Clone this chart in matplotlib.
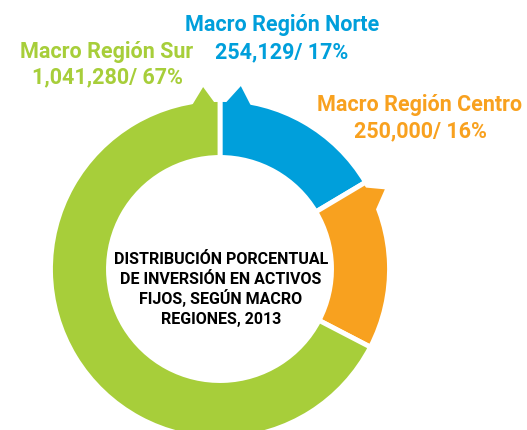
import numpy as np
import matplotlib
matplotlib.use("Agg")
import matplotlib.pyplot as plt
from matplotlib.patches import Polygon

# Investment in fixed assets by macro region, 2013
regions = ["Macro Región Norte", "Macro Región Centro", "Macro Región Sur"]
inversion = [254129, 250000, 1041280]
value_labels = ["254,129", "250,000", "1,041,280"]
percent_labels = ["17%", "16%", "67%"]
colors = ["#009FDB", "#F8A11F", "#A7CE3A"]
center_title = ["DISTRIBUCIÓN PORCENTUAL", "DE INVERSIÓN EN ACTIVOS",
                "FIJOS, SEGÚN MACRO", "REGIONES, 2013"]

W, H = 527, 430
CX, CY, R = 220, 269, 169.5  # ring centre and outer radius in pixels

fig = plt.figure(figsize=(W / 100, H / 100), dpi=100)
ax = fig.add_axes([0, 0, 1, 1])

wedges, _ = ax.pie(
    inversion, colors=colors, startangle=90, counterclock=False, radius=1.0,
    wedgeprops=dict(width=0.342, edgecolor="white", linewidth=3.5),
)
ax.set_aspect("auto")
ax.set_xlim(-CX / R, (W - CX) / R)
ax.set_ylim(-(H - CY) / R, CY / R)
ax.axis("off")


def pointer(boundary, near, apex, far, r_apex, color):
    """Small callout notch on the outer rim, angles relative to a wedge boundary."""
    angs = np.radians([boundary + near, boundary + apex, boundary + far])
    rads = [0.97, r_apex, 0.97]
    pts = [(r * np.cos(a), r * np.sin(a)) for r, a in zip(rads, angs)]
    ax.add_patch(Polygon(pts, closed=True, facecolor=color, edgecolor="none", zorder=3))


w_norte, w_centro, w_sur = wedges
pointer(w_norte.theta2, -1.4, -6.5, -11.2, 1.086, colors[0])
pointer(w_sur.theta1 + 360, 1.4, 5.3, 10.2, 1.078, colors[2])
pointer(w_centro.theta2, -1.0, -5.0, -10.8, 1.08, colors[1])

label_font = dict(family=["Roboto", "DejaVu Sans"], weight="bold", fontsize=15.5)
label_pos = [(282, 25, 52), (420, 105, 131), (107, 52, 77)]
for name, val, pct, col, (px, py1, py2) in zip(regions, value_labels, percent_labels, colors, label_pos):
    ax.text(px / W, 1 - py1 / H, name, color=col, ha="center", va="center",
            transform=ax.transAxes, **label_font)
    ax.text(px / W, 1 - py2 / H, f"{val}/ {pct}", color=col, ha="center", va="center",
            transform=ax.transAxes, **label_font)

# Title lines inside the ring, placed by baseline
for i, line in enumerate(center_title):
    ax.text(221 / W, 1 - (264 + 20 * i) / H, line, color="black", ha="center",
            va="baseline", transform=ax.transAxes,
            family=["Roboto", "DejaVu Sans"], weight="bold", fontsize=11.5)

fig.savefig("out.png", dpi=100)
